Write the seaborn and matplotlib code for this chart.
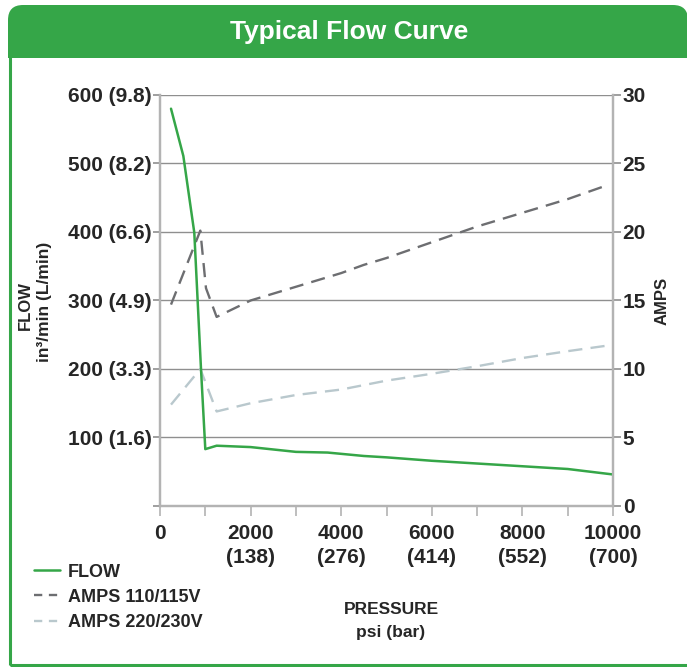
import matplotlib
matplotlib.use("Agg")
import matplotlib.pyplot as plt
import seaborn as sns
from matplotlib.lines import Line2D
from matplotlib.patches import FancyBboxPatch, Rectangle

# data
flow_psi = [243, 515, 757, 905, 1000, 1250, 2000, 3000, 3700, 4500, 5000, 6000, 7000, 8000, 9000, 10000]
flow_vals = [580, 511, 399, 200, 83, 88, 86, 79, 78, 73, 71, 66, 62, 58, 54, 46]

amps110_psi = [243, 890, 1015, 1250, 2000, 3000, 4000, 4500, 5000, 6000, 7000, 8000, 9000, 9860]
amps110_vals = [14.7, 20.1, 15.9, 13.8, 15.0, 16.0, 17.0, 17.6, 18.1, 19.25, 20.4, 21.4, 22.4, 23.4]

amps220_psi = [243, 890, 1250, 2000, 3000, 4000, 5000, 6000, 7000, 8000, 9000, 9860]
amps220_vals = [7.4, 10.0, 6.9, 7.5, 8.1, 8.5, 9.15, 9.65, 10.2, 10.8, 11.3, 11.7]

x_ticks = [0, 2000, 4000, 6000, 8000, 10000]
x_labels = ["0", "2000\n(138)", "4000\n(276)", "6000\n(414)", "8000\n(552)", "10000\n(700)"]
flow_ticks = [0, 100, 200, 300, 400, 500, 600]
flow_labels = ["", "100 (1.6)", "200 (3.3)", "300 (4.9)", "400 (6.6)", "500 (8.2)", "600 (9.8)"]
amp_ticks = [0, 5, 10, 15, 20, 25, 30]

green = "#35a648"
dark = "#6d6e71"
light = "#b9c8cd"
spine_c = "#b3b3b3"
grid_c = "#8f8f8f"

sns.set_style("white")
plt.rcParams['font.family'] = ['Liberation Sans', 'DejaVu Sans']
plt.rcParams['font.weight'] = 'bold'

fig = plt.figure(figsize=(6.87, 6.67), dpi=100)

# green frame + title bar (inches)
tr = fig.dpi_scale_trans
bar = FancyBboxPatch((0.08, 6.09), 6.80, 0.53, boxstyle="round,pad=0,rounding_size=0.15",
                     transform=tr, facecolor=green, edgecolor="none", zorder=0)
fig.patches.append(bar)
fig.patches.append(Rectangle((0.08, 6.09), 6.9, 0.2, transform=tr, facecolor=green,
                             edgecolor="none", zorder=0))
fig.patches.append(Rectangle((0.095, 0.02), 6.9, 6.1, transform=tr, facecolor="none",
                             edgecolor=green, linewidth=2.2, zorder=0))
fig.text(3.49, 6.35, "Typical Flow Curve", transform=tr, color="white", fontsize=19,
         fontweight="bold", ha="center", va="center")

ax = fig.add_axes([0.2329, 0.2414, 0.6594, 0.6162])
ax2 = ax.twinx()
ax.set_facecolor("none")

sns.lineplot(x=amps110_psi, y=amps110_vals, ax=ax2, color=dark, linewidth=1.7,
             linestyle=(0, (6, 3.5)))
sns.lineplot(x=amps220_psi, y=amps220_vals, ax=ax2, color=light, linewidth=1.7,
             linestyle=(0, (6, 3.5)))
sns.lineplot(x=flow_psi, y=flow_vals, ax=ax, color=green, linewidth=1.8)
ax.set_zorder(ax2.get_zorder() + 1)

ax.set_xlim(0, 10000)
ax.set_ylim(0, 600)
ax2.set_ylim(0, 30)

ax.set_xticks(x_ticks)
ax.set_xticklabels(x_labels, fontsize=15, fontweight="bold", linespacing=1.3)
ax.set_xticks(range(1000, 10000, 2000), minor=True)
ax.set_yticks(flow_ticks)
ax.set_yticklabels(flow_labels, fontsize=15, fontweight="bold")
ax2.set_yticks(amp_ticks)
ax2.set_yticklabels([str(v) for v in amp_ticks], fontsize=15, fontweight="bold")

ax.tick_params(axis="x", which="both", direction="out", length=7, width=1.2,
               color=spine_c, pad=6, bottom=True)
ax.tick_params(axis="y", direction="out", length=5, width=1.2, color=grid_c, pad=1, left=True)
ax2.tick_params(axis="y", direction="out", length=6, width=1.2, color=grid_c, pad=1, right=True)

ax2.grid(axis="y", color=grid_c, linewidth=1.0)
ax2.set_axisbelow(True)
ax.grid(False)

for a in (ax, ax2):
    a.spines["top"].set_visible(False)
    for s in ("left", "right", "bottom"):
        a.spines[s].set_color(spine_c)
        a.spines[s].set_linewidth(1.6)

ax.set_xlabel("")
ax.set_ylabel("")
ax2.set_ylabel("AMPS", fontsize=12, fontweight="bold", labelpad=6)

fig.text(0.25, 3.62, "FLOW", transform=tr, rotation=90, fontsize=12,
         fontweight="bold", ha="center", va="center")
fig.text(0.45, 3.65, "in³/min (L/min)", transform=tr, rotation=90, fontsize=12.5,
         fontweight="bold", ha="center", va="center")
fig.text(3.91, 0.58, "PRESSURE", transform=tr, fontsize=12.5, fontweight="bold",
         ha="center", va="center")
fig.text(3.91, 0.35, "psi (bar)", transform=tr, fontsize=12.5, fontweight="bold",
         ha="center", va="center")

handles = [
    Line2D([], [], color=green, linewidth=1.8),
    Line2D([], [], color=dark, linewidth=1.7, linestyle=(0, (3.5, 2.8))),
    Line2D([], [], color=light, linewidth=1.7, linestyle=(0, (3.5, 2.8))),
]
fig.legend(handles, ["FLOW", "AMPS 110/115V", "AMPS 220/230V"], loc="upper left",
           bbox_to_anchor=(0.05, 0.155), frameon=False, prop={"size": 13, "weight": "bold"},
           handlelength=1.4, handletextpad=0.45, labelspacing=0.45, borderpad=0,
           borderaxespad=0)

fig.savefig("out.png", dpi=100)
